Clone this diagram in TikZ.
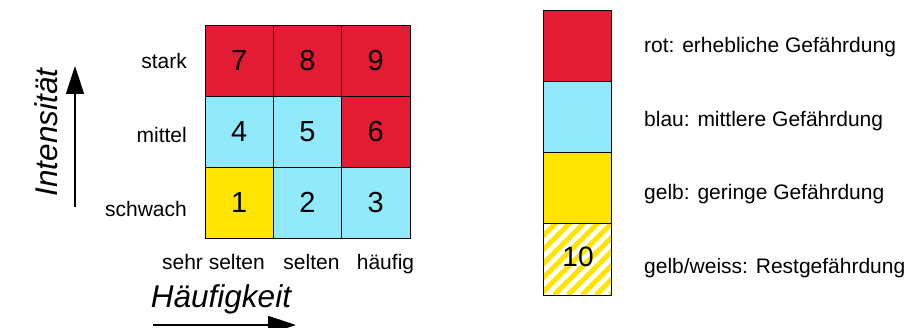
\documentclass[tikz,border=0pt]{standalone}
\usepackage{fontspec}
\setmainfont{Liberation Sans}
\usetikzlibrary{arrows.meta}
\definecolor{cred}{HTML}{E41B35}
\definecolor{cblue}{HTML}{91EAFB}
\definecolor{cyel}{HTML}{FFE500}
\begin{document}
\begin{tikzpicture}[x=1pt,y=-1pt,
  cell/.style={draw=black,line width=0.8pt,minimum width=68.33pt,minimum height=71pt,inner sep=0pt,font=\fontsize{29}{30}\selectfont},
  lcell/.style={draw=black,line width=0.8pt,minimum width=68pt,minimum height=71.25pt,inner sep=0pt,font=\fontsize{28}{30}\selectfont},
  lab/.style={font=\fontsize{21}{24}\selectfont,inner sep=0pt},
  axis/.style={font=\fontsize{31.5}{33}\selectfont\itshape,inner sep=0pt},
  arr/.style={line width=1.5pt,-{Triangle[length=28pt,width=18pt]}}]
\useasboundingbox (0,0) rectangle (906,328);
\clip (0,0) rectangle (906,328);
% grid
\node[cell,fill=cred]  (c7) at (239.2,60.5) {7};
\node[cell,fill=cred]  (c8) at (307.5,60.5) {8};
\node[cell,fill=cred]  (c9) at (375.8,60.5) {9};
\node[cell,fill=cblue] (c4) at (239.2,131.5) {4};
\node[cell,fill=cblue] (c5) at (307.5,131.5) {5};
\node[cell,fill=cred]  (c6) at (375.8,131.5) {6};
\node[cell,fill=cyel]  (c1) at (239.2,202.5) {1};
\node[cell,fill=cblue] (c2) at (307.5,202.5) {2};
\node[cell,fill=cblue] (c3) at (375.8,202.5) {3};
% row labels
\node[lab,anchor=base east] (lstark) at (187,69) {stark};
\node[lab,anchor=base east] (lmittel) at (187,142.7) {mittel};
\node[lab,anchor=base east] (lschwach) at (187,216.7) {schwach};
% column labels
\node[lab,anchor=base] (lss) at (213.5,270) {sehr selten};
\node[lab,anchor=base] (ls) at (311.5,270) {selten};
\node[lab,anchor=base] (lh) at (385.5,270) {häufig};
% axis titles
\node[axis,anchor=base,rotate=90] (tint) at (57,132.5) {Intensität};
\node[axis,anchor=base] (thf) at (221,308) {Häufigkeit};
% arrows
\coordinate (va) at (75,207);
\coordinate (vb) at (75,66);
\coordinate (ha) at (153,325);
\coordinate (hb) at (296,325);
\draw[arr] (va) -- (vb);
\draw[arr] (ha) -- (hb);
% legend
\node[lcell,fill=cred]  (g1) at (577,45.6) {};
\node[lcell,fill=cblue] (g2) at (577,116.9) {};
\node[lcell,fill=cyel]  (g3) at (577,188.1) {};
\begin{scope}
\clip (543,224) rectangle (611,295);
\foreach \k in {-7,...,10}{
  \draw[cyel,line width=5pt] ({540+\k*14},295) -- ++(80,-80);
}
\end{scope}
\node[lcell] (g4) at (577,259.4) {};
\node[font=\fontsize{28}{30}\selectfont,inner sep=0pt] (n10) at (578,257) {10};
\node[lab,anchor=base west] (t1) at (644,53) {rot: erhebliche Gefährdung};
\node[lab,anchor=base west] (t2) at (644,126.7) {blau: mittlere Gefährdung};
\node[lab,anchor=base west] (t3) at (644,200) {gelb: geringe Gefährdung};
\node[lab,anchor=base west] (t4) at (644,274) {gelb/weiss: Restgefährdung};
\end{tikzpicture}
\end{document}
